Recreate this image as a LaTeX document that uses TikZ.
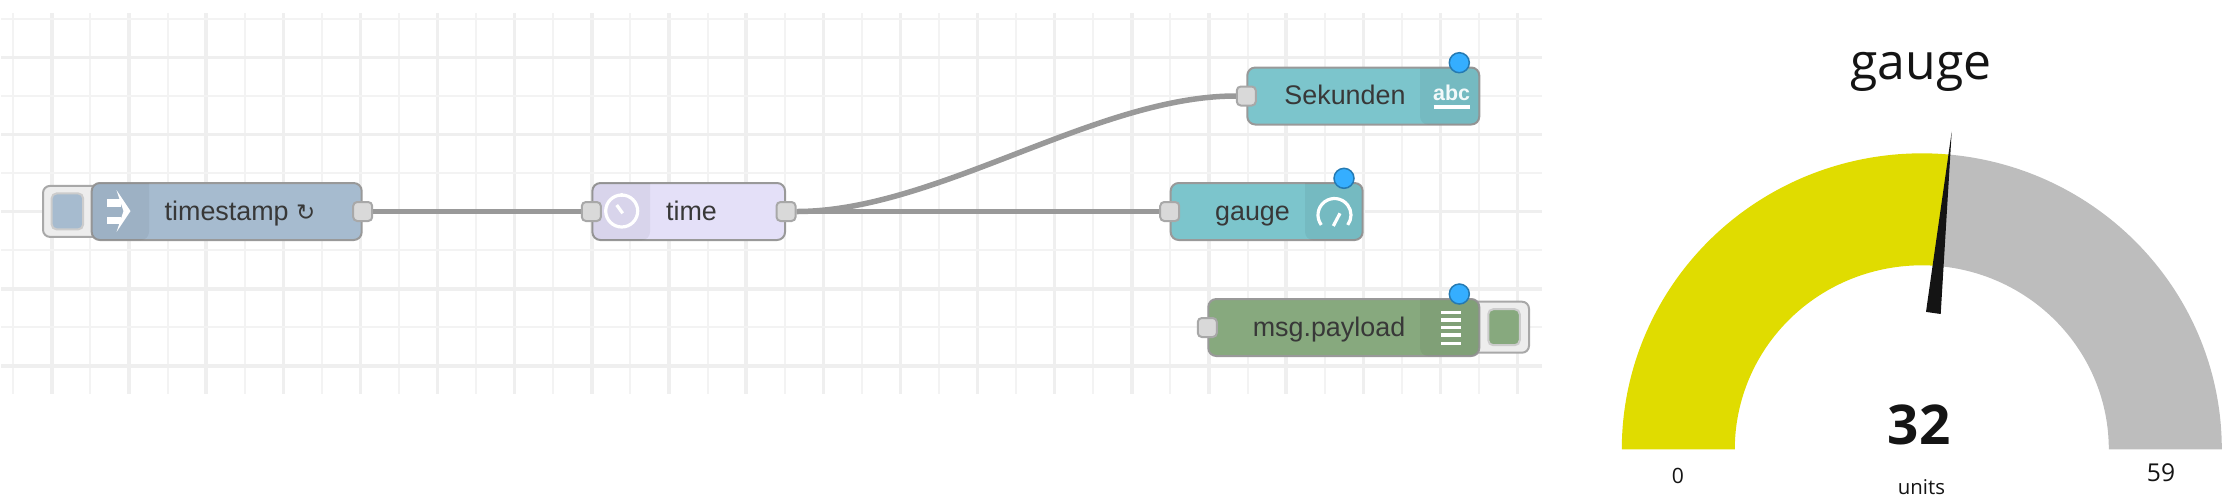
\documentclass[tikz,border=0pt]{standalone}
\usepackage{fontspec}
\setmainfont{Liberation Sans}
\newfontfamily\symbolfont{DejaVu Sans}
\newfontfamily\dashfont{Open Sans}
\definecolor{gridgrey}{HTML}{EFEFEF}
\definecolor{wiregrey}{HTML}{999999}
\definecolor{injectblue}{HTML}{A6BBCF}
\definecolor{timelilac}{HTML}{E4E0F8}
\definecolor{dashteal}{HTML}{7CC5CC}
\definecolor{debuggreen}{HTML}{87A97E}
\definecolor{badgeblue}{HTML}{35AEFF}
\definecolor{gaugeyellow}{HTML}{E0DC00}
\definecolor{gaugegrey}{HTML}{BDBDBD}
\tikzset{
  gridthin/.style={gridgrey!75, line width=0.02cm},
  gridthick/.style={gridgrey, line width=0.034cm},
  wire/.style={wiregrey, line width=0.055cm},
  nodebody/.style={draw=wiregrey, line width=0.02cm, rounded corners=0.08cm, minimum height=0.57cm, inner sep=0},
  portnode/.style={draw=wiregrey!85, fill=black!15, line width=0.02cm, rounded corners=0.04cm, minimum size=0.19cm, inner sep=0},
  buttonnode/.style={draw=wiregrey!85, fill=black!7, line width=0.02cm, rounded corners=0.07cm, minimum height=0.51cm, minimum width=0.58cm, inner sep=0},
  buttonface/.style={draw=black!20, line width=0.02cm, rounded corners=0.05cm, minimum height=0.36cm, minimum width=0.315cm, inner sep=0},
  iconshade/.style={fill=black, fill opacity=0.05},
  iconline/.style={white, line width=0.032cm},
  badgenode/.style={circle, draw=badgeblue!70!black, fill=badgeblue, line width=0.015cm, minimum size=0.2cm, inner sep=0},
  flowlabel/.style={anchor=base, text=black!78, font=\fontsize{7.65}{9}\selectfont, inner sep=0},
  dashlabel/.style={anchor=base, text=black!92, inner sep=0}
}
\begin{document}
\begin{tikzpicture}
\useasboundingbox (0, 0) rectangle (22.36, 4.98);
\foreach \i in {0, 1, ..., 39} {
  \pgfmathsetmacro{\gx}{0.133 + 0.3857*\i}
  \pgfmathparse{int(mod(\i, 2))}
  \ifnum\pgfmathresult=1
    \draw[gridthick] (\gx, 1.04) -- (\gx, 4.85);
  \else
    \draw[gridthin] (\gx, 1.04) -- (\gx, 4.85);
  \fi
}
\foreach \i in {0, 1, ..., 9} {
  \pgfmathsetmacro{\gy}{4.79 - 0.3855*\i}
  \pgfmathparse{int(mod(\i, 2))}
  \ifnum\pgfmathresult=1
    \draw[gridthick] (0.01, \gy) -- (15.42, \gy);
  \else
    \draw[gridthin] (0.01, \gy) -- (15.42, \gy);
  \fi
}

\node[buttonnode] (injectbutton) at (0.72, 2.866) {};
\node[buttonface, fill=injectblue] (injectface) at (0.674, 2.866) {};
\node[buttonnode] (debugbutton) at (15.0, 1.708) {};
\node[buttonface, fill=debuggreen] (debugface) at (15.04, 1.708) {};

\node[nodebody, fill=injectblue, minimum width=2.70cm] (timestamp) at (2.267, 2.865) {};
\node[nodebody, fill=timelilac, minimum width=1.927cm] (time) at (6.887, 2.865) {};
\node[nodebody, fill=dashteal, minimum width=2.32cm] (sekunden) at (13.633, 4.02) {};
\node[nodebody, fill=dashteal, minimum width=1.92cm] (gaugeflow) at (12.667, 2.865) {};
\node[nodebody, fill=debuggreen, minimum width=2.71cm] (payload) at (13.438, 1.705) {};

\fill[iconshade, rounded corners=0.08cm] (1.49, 3.15) -- (0.917, 3.15) -- (0.917, 2.58) -- (1.49, 2.58) [sharp corners] -- cycle;
\fill[iconshade, rounded corners=0.08cm] (6.50, 3.15) -- (5.923, 3.15) -- (5.923, 2.58) -- (6.50, 2.58) [sharp corners] -- cycle;
\fill[iconshade, rounded corners=0.08cm] (14.20, 4.305) -- (14.793, 4.305) -- (14.793, 3.735) -- (14.20, 3.735) [sharp corners] -- cycle;
\fill[iconshade, rounded corners=0.08cm] (13.05, 3.15) -- (13.627, 3.15) -- (13.627, 2.58) -- (13.05, 2.58) [sharp corners] -- cycle;
\fill[iconshade, rounded corners=0.08cm] (14.20, 1.99) -- (14.793, 1.99) -- (14.793, 1.42) -- (14.20, 1.42) [sharp corners] -- cycle;

\fill[white] (1.07, 2.99) rectangle (1.21, 2.913);
\fill[white] (1.07, 2.813) rectangle (1.21, 2.74);
\fill[white] (1.165, 3.08) -- (1.305, 2.87) -- (1.165, 2.66) -- (1.235, 2.87) -- cycle;
\draw[iconline] (6.217, 2.87) circle (0.16);
\draw[iconline] (6.227, 2.847) -- (6.167, 2.93);
\fill[white] (6.217, 3.03) circle (0.02);
\draw[iconline] (14.337, 3.91) -- (14.70, 3.91);
\node[anchor=base, text=white!90!dashteal, font=\fontsize{6.1}{7}\selectfont\bfseries, inner sep=0] (abcicon) at (14.516, 3.975) {abc};
\draw[iconline] (13.345, 2.83) ++(217:0.165) arc[start angle=217, end angle=-37, radius=0.165];
\draw[iconline] (13.333, 2.72) -- (13.40, 2.847);
\foreach \ly in {1.853, 1.78, 1.707, 1.63, 1.547} {
  \draw[iconline] (14.41, \ly) -- (14.607, \ly);
}

\node[portnode] (timestampout) at (timestamp.east) {};
\node[portnode] (timein) at (time.west) {};
\node[portnode] (timeout) at (time.east) {};
\node[portnode] (sekundenin) at (sekunden.west) {};
\node[portnode] (gaugein) at (gaugeflow.west) {};
\node[portnode] (payloadin) at (payload.west) {};

\draw[wire] (timestampout) -- (timein);
\draw[wire] (timeout) -- (gaugein);
\draw[wire] (timeout.east) .. controls +(1.4, 0) and +(-1.4, 0) .. (sekundenin.west);

\node[badgenode] (sekundenbadge) at (14.593, 4.353) {};
\node[badgenode] (gaugebadge) at (13.44, 3.197) {};
\node[badgenode] (payloadbadge) at (14.593, 2.04) {};

\node[flowlabel] (timestamplabel) at (2.40, 2.78) {timestamp {\symbolfont\fontsize{6.5}{8}\selectfont ↻}};
\node[flowlabel] (timelabel) at (6.915, 2.78) {time};
\node[flowlabel] (sekundenlabel) at (13.45, 3.935) {Sekunden};
\node[flowlabel] (gaugelabel) at (12.525, 2.78) {gauge};
\node[flowlabel] (payloadlabel) at (13.29, 1.62) {msg.payload};

\coordinate (gaugecentre) at (19.218, 0.487);
\fill[gaugeyellow] ([shift={(180:3 and 2.96)}]gaugecentre) arc[start angle=180, end angle=84.7, x radius=3, y radius=2.96] -- ([shift={(84.7:1.87 and 1.84)}]gaugecentre) arc[start angle=84.7, end angle=180, x radius=1.87, y radius=1.84] -- cycle;
\fill[gaugegrey] ([shift={(84.7:3 and 2.96)}]gaugecentre) arc[start angle=84.7, end angle=0, x radius=3, y radius=2.96] -- ([shift={(0:1.87 and 1.84)}]gaugecentre) arc[start angle=0, end angle=84.7, x radius=1.87, y radius=1.84] -- cycle;
\fill[black!92] (19.26, 1.861) -- (19.407, 1.84) -- (19.517, 3.663) -- cycle;

\node[dashlabel, font=\dashfont\fontsize{14.2}{16}\selectfont] (gaugetitle) at (19.21, 4.19) {gauge};
\node[dashlabel, font=\dashfont\bfseries\fontsize{15.6}{18}\selectfont] (gaugevalue) at (19.19, 0.54) {32};
\node[dashlabel, font=\dashfont\fontsize{6}{7}\selectfont] (gaugemin) at (16.78, 0.145) {0};
\node[dashlabel, font=\dashfont\fontsize{7}{8}\selectfont] (gaugemax) at (21.61, 0.165) {59};
\node[dashlabel, font=\dashfont\fontsize{5.8}{7}\selectfont] (gaugeunits) at (19.215, 0.04) {units};
\end{tikzpicture}
\end{document}
